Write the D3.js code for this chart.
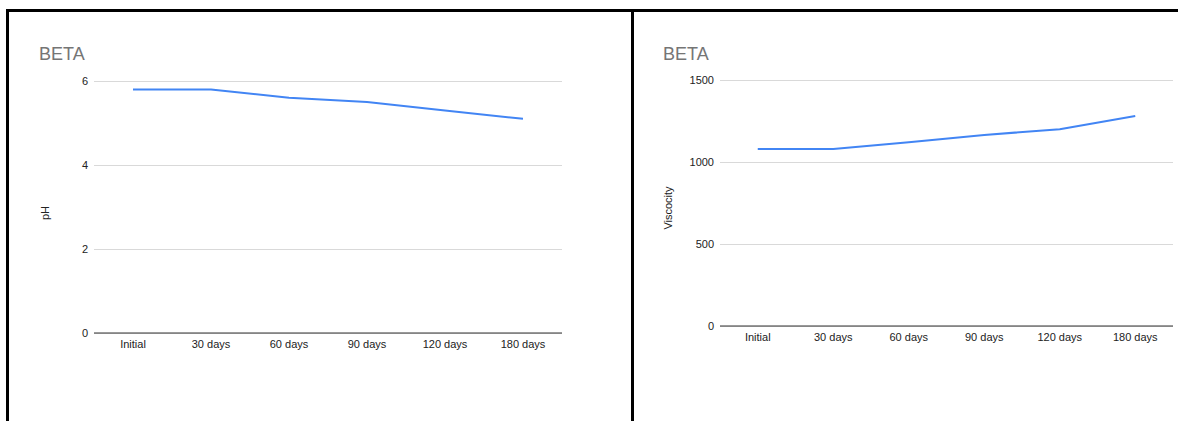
<!DOCTYPE html>
<html><head><meta charset="utf-8">
<script src="https://cdn.jsdelivr.net/npm/d3@7"></script>
<style>body{margin:0;background:#fff}svg{display:block}text{font-family:"Liberation Sans",Arial,sans-serif}</style>
</head><body>
<svg id="c" width="1178" height="421"></svg>
<script>
const categories = ["Initial","30 days","60 days","90 days","120 days","180 days"];
const phValues = [5.8, 5.8, 5.6, 5.5, 5.3, 5.1];
const viscosityValues = [1080, 1080, 1120, 1165, 1200, 1280];
const phTicks = [0, 2, 4, 6];
const viscosityTicks = [0, 500, 1000, 1500];
const titles = ["BETA", "BETA"];
const yLabels = ["pH", "Viscocity"];

const svg = d3.select("#c");

// frame borders
svg.append("rect").attr("x",6).attr("y",9).attr("width",1172).attr("height",3).attr("fill","#000");
svg.append("rect").attr("x",6).attr("y",9).attr("width",3).attr("height",412).attr("fill","#000");
svg.append("rect").attr("x",631).attr("y",9).attr("width",3).attr("height",412).attr("fill","#000");

function panel(cfg){
  const g = svg.append("g");
  const x = d3.scaleBand().domain(categories).range([cfg.x0, cfg.x1]);
  const y = d3.scaleLinear().domain(cfg.domain).range([cfg.yb, cfg.yt]);
  g.append("text").attr("x",cfg.tx).attr("y",60).attr("font-size",18).attr("fill","#757575").text(cfg.title);
  // gridlines
  const ya = d3.axisLeft(y).tickValues(cfg.ticks).tickSize(cfg.x1-cfg.x0+6).tickPadding(4).tickFormat(d3.format("d"));
  const yg = g.append("g").attr("transform",`translate(${cfg.x1},0)`).call(ya);
  yg.select(".domain").remove();
  yg.selectAll(".tick line").attr("stroke","#d9d9d9").attr("x2",0).attr("x1",-(cfg.x1-cfg.x0));
  yg.selectAll(".tick text").attr("x",-(cfg.x1-cfg.x0)-6).attr("font-size",11).attr("fill","#222").attr("font-family","Liberation Sans, Arial, sans-serif");
  // baseline
  g.append("line").attr("x1",cfg.x0).attr("x2",cfg.x1).attr("y1",y(0)).attr("y2",y(0)).attr("stroke","#333").attr("stroke-width",1);
  // x axis labels
  const xa = d3.axisBottom(x).tickSize(0).tickPadding(7);
  const xg = g.append("g").attr("transform",`translate(0,${y(0)})`).call(xa);
  xg.select(".domain").remove();
  xg.selectAll(".tick text").attr("font-size",11).attr("fill","#222").attr("font-family","Liberation Sans, Arial, sans-serif");
  // y label
  g.append("text").attr("transform",`translate(${cfg.lx},${cfg.ly}) rotate(-90)`).attr("text-anchor","middle")
    .attr("font-size",11).attr("fill","#222").text(cfg.ylabel);
  // line
  const line = d3.line().x((d,i)=>x(categories[i])+x.bandwidth()/2).y(d=>y(d));
  g.append("path").datum(cfg.values).attr("d",line).attr("fill","none").attr("stroke","#4285F4").attr("stroke-width",2).attr("stroke-linejoin","round");
}

panel({x0:94,x1:562,yb:333,yt:81,domain:[0,6],ticks:phTicks,values:phValues,title:titles[0],tx:39,ylabel:yLabels[0],lx:49,ly:213});
panel({x0:720,x1:1173,yb:326,yt:80,domain:[0,1500],ticks:viscosityTicks,values:viscosityValues,title:titles[1],tx:663,ylabel:yLabels[1],lx:672,ly:208});
</script>
</body></html>
